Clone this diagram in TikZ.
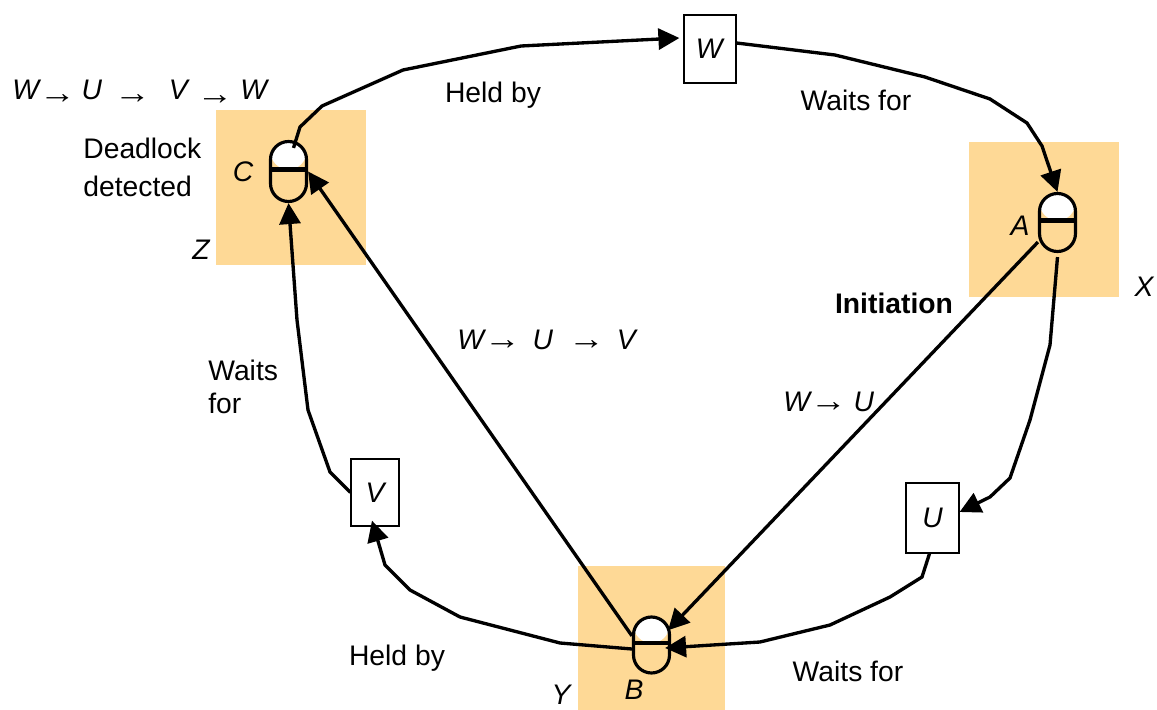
\documentclass[tikz,border=0pt]{standalone}
\usepackage{fontspec}
\setmainfont{Liberation Sans}
\usetikzlibrary{arrows.meta}
\definecolor{zonecolor}{RGB}{254,217,150}
\tikzset{
    zone/.style={fill=zonecolor, inner sep=0pt},
    lock/.style={draw=black, line width=1.8pt, rounded corners=0.36cm, inner sep=0pt, minimum width=0.72cm, minimum height=#1,
        path picture={
            \fill[white] (path picture bounding box.north west) rectangle ([yshift=0.04cm]path picture bounding box.east);
            \draw[line width=2.8pt] ([yshift=0.04cm]path picture bounding box.west) -- ([yshift=0.04cm]path picture bounding box.east);
        }},
    item/.style={draw=black, line width=0.7pt, fill=white, inner sep=0pt, font=\fontsize{16.1}{19}\selectfont\itshape},
    link/.style={-{Triangle[length=0.42cm,width=0.42cm]}, line width=1.9pt, black},
    lab/.style={font=\fontsize{16.1}{19}\selectfont, align=left, inner sep=0pt},
    letter/.style={font=\fontsize{16.1}{19}\selectfont\itshape, align=left, inner sep=0pt}
}
\newcommand{\chainarrow}[1]{\raisebox{#1}{\scalebox{1.16}[1]{\upshape\bfseries\fontsize{18}{19}\selectfont →}}}
\begin{document}
\begin{tikzpicture}[x=0.02cm, y=-0.02cm]
    \useasboundingbox (0,0) rectangle (1157,710);

    % Orange squares
    \node [zone, minimum width=3cm, minimum height=3.1cm] (zoneZ) at (291,187.5) {};
    \node [zone, minimum width=3cm, minimum height=3.1cm] (zoneX) at (1044,219.5) {};
    \node [zone, minimum width=2.94cm, minimum height=2.88cm] (zoneY) at (651.5,638) {};

    % Locks
    \node [lock=1.2cm] (lockC) at (288.5,171.5) {};
    \node [lock=1.16cm] (lockA) at (1057.5,222.5) {};
    \node [lock=1.12cm] (lockB) at (651.5,645) {};

    % Transactions
    \node [item, minimum width=1.04cm, minimum height=1.36cm] (boxW) at (710,49) {\hspace{-0.03cm}W};
    \node [item, minimum width=0.96cm, minimum height=1.34cm] (boxV) at (375,492.5) {V};
    \node [item, minimum width=1.06cm, minimum height=1.4cm] (boxU) at (932.5,518) {U};

    % Outer ring
    \draw [link] ([shift={(5,8)}]lockC.north) -- (300,127) -- (322,106) -- (403,70) -- (521,46) -- ([xshift=-0.08cm]boxW.west |- 0,38);
    \draw [link] (boxW.east |- 0,43) -- (835,55) -- (925,77) -- (990,99) -- (1027,123) -- (1042,146) -- (lockA.north);
    \draw [link] ([yshift=-0.08cm]lockA.south) -- (1050,345) -- (1030,420) -- (1010,478) -- (990,497) -- (boxU.east |- 0,512);
    \draw [link] ([xshift=-0.06cm]boxU.south) -- (922,577) -- (890,597) -- (830,625) -- (760,642) -- ([shift={(-6,3)}]lockB.east);
    \draw [link] ([yshift=-0.08cm]lockB.west) -- (560,643) -- (460,617) -- (410,590) -- (385,565) -- ([shift={(-3,-6)}]boxV.south);
    \draw [link] (boxV.west) -- (330,472) -- (308,410) -- (297,320) -- (lockC.south);

    % Inner lines
    \draw [link] (lockA.225) -- ([shift={(-3,-1)}]lockB.35);
    \draw [link] (lockB.155) -- (lockC.east);

    % Labels
    \node [lab] (heldTop) at (493,95) {Held by};
    \node [lab] (waitsTop) at (856,100) {Waits for};
    \node [lab] (heldBottom) at (397,658) {Held by};
    \node [lab] (waitsBottom) at (848,671) {Waits for};
    \node [lab, anchor=west] (waitsLeft) at (208,387) {Waits\\[0pt]for};
    \node [lab, anchor=west] (deadlock) at (83,167.5) {Deadlock\\[2.2pt]detected};
    \node [lab, font=\fontsize{16.1}{19}\selectfont\bfseries] (initiation) at (894,303) {Initiation};
    \node [letter] (nameC) at (243,172) {C};
    \node [letter] (nameZ) at (201,250) {Z};
    \node [letter] (nameA) at (1020,226) {A};
    \node [letter] (nameX) at (1144,287) {X};
    \node [letter] (nameB) at (634,690) {B};
    \node [letter] (nameY) at (561,695) {Y};

    % Probes
    \node [letter, anchor=west] (probeFull) at (12,92) {W\chainarrow{-2.5pt}\hspace{0.12cm}U\hspace{0.24cm}\chainarrow{-2.5pt}\hspace{0.36cm}V\hspace{0.18cm}\chainarrow{-3pt}\hspace{0.14cm}W};
    \node [letter, anchor=west] (probeTwo) at (457,340) {W\chainarrow{0pt}\hspace{0.24cm}U\hspace{0.3cm}\chainarrow{0pt}\hspace{0.24cm}V};
    \node [letter, anchor=west] (probeOne) at (783,402) {W\chainarrow{0pt}\hspace{0.14cm}U};
\end{tikzpicture}
\end{document}
